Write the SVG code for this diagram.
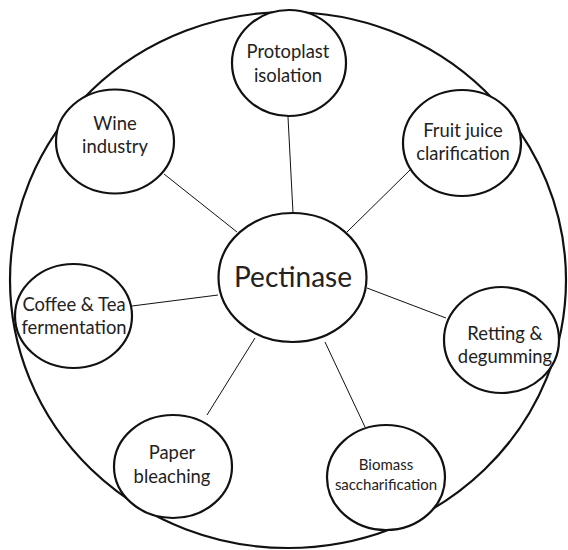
<svg xmlns="http://www.w3.org/2000/svg" width="568" height="550" viewBox="0 0 568 550">
<style>
.c{fill:#fff;stroke:#111;stroke-width:2.2}
.o{fill:none;stroke:#111;stroke-width:2.2}
.l{stroke:#111;stroke-width:1;fill:none}
text{font-family:Lato,"Open Sans",sans-serif;font-size:18.4px;fill:#222;text-anchor:middle}
.s{font-size:15px}
</style>
<rect width="568" height="550" fill="#fff"/>
<ellipse class="o" cx="288" cy="280" rx="278" ry="268"/>
<g id="connectors">
<line class="l" x1="288" y1="117" x2="293" y2="213"/>
<line class="l" x1="164" y1="174" x2="237" y2="232"/>
<line class="l" x1="410" y1="170" x2="347" y2="232"/>
<line class="l" x1="132" y1="306" x2="218" y2="295"/>
<line class="l" x1="367" y1="288" x2="446" y2="318"/>
<line class="l" x1="207" y1="415" x2="255" y2="338"/>
<line class="l" x1="325" y1="342" x2="365" y2="427"/>
</g>
<g id="pectinase"><ellipse class="c" cx="292.5" cy="277.5" rx="74" ry="64.5"/><text x="293" y="287" style="font-size:28px">Pectinase</text></g>
<g id="protoplast"><ellipse class="c" cx="289" cy="63" rx="57" ry="53"/><text x="288" y="58">Protoplast</text><text x="288" y="82">isolation</text></g>
<g id="wine"><ellipse class="c" cx="115" cy="141.5" rx="59" ry="52"/><text x="115" y="130">Wine</text><text x="115" y="153">industry</text></g>
<g id="fruit"><ellipse class="c" cx="462" cy="143" rx="59" ry="53"/><text x="463" y="137">Fruit juice</text><text x="463" y="160">clarification</text></g>
<g id="coffee"><ellipse class="c" cx="73.5" cy="316" rx="58.5" ry="52"/><text x="74" y="311">Coffee &amp; Tea</text><text x="74" y="334">fermentation</text></g>
<g id="retting"><ellipse class="c" cx="501.5" cy="340" rx="57.5" ry="53"/><text x="505" y="340">Retting &amp;</text><text x="505" y="363">degumming</text></g>
<g id="paper"><ellipse class="c" cx="173" cy="466.5" rx="59" ry="51.5"/><text x="172" y="459">Paper</text><text x="172" y="483">bleaching</text></g>
<g id="biomass"><ellipse class="c" cx="386" cy="477.5" rx="59" ry="52.5"/><text class="s" x="386" y="470">Biomass</text><text class="s" x="386" y="490">saccharification</text></g>
</svg>
